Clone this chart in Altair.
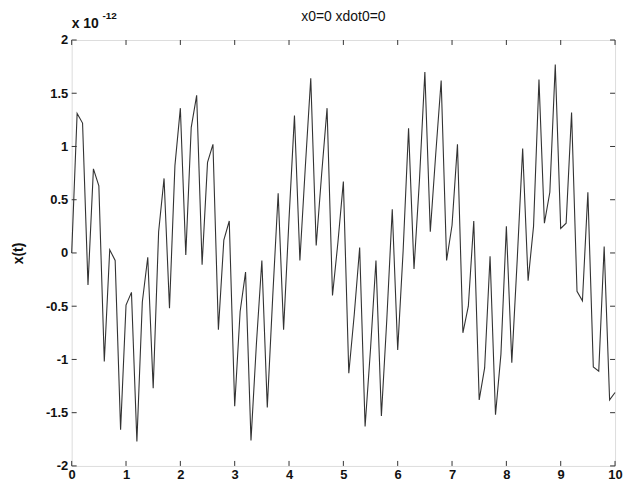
import altair as alt
import pandas as pd

# time grid (s) and response values (units of 1e-12)
t_values = [round(i * 0.1, 1) for i in range(101)]
x_values = [
    0.00, 1.31, 1.22, -0.30, 0.79, 0.63, -1.02, 0.03, -0.07, -1.66,
    -0.49, -0.37, -1.77, -0.46, -0.04, -1.27, 0.20, 0.70, -0.52, 0.82,
    1.36, -0.02, 1.18, 1.48, -0.11, 0.85, 1.02, -0.72, 0.12, 0.30,
    -1.44, -0.55, -0.18, -1.76, -0.85, -0.07, -1.45, -0.41, 0.56, -0.72,
    0.32, 1.29, -0.07, 0.81, 1.64, 0.07, 0.74, 1.36, -0.40, 0.10,
    0.67, -1.13, -0.58, 0.05, -1.63, -0.90, -0.07, -1.53, -0.62, 0.41,
    -0.91, 0.02, 1.17, -0.15, 0.68, 1.70, 0.20, 0.93, 1.62, -0.07,
    0.26, 1.02, -0.75, -0.50, 0.30, -1.38, -1.08, -0.03, -1.52, -0.95,
    0.25, -1.03, -0.06, 0.98, -0.26, 0.25, 1.63, 0.28, 0.57, 1.77,
    0.23, 0.28, 1.32, -0.36, -0.45, 0.57, -1.07, -1.11, 0.06, -1.38,
    -1.31,
]
x_ticks = [0, 1, 2, 3, 4, 5, 6, 7, 8, 9, 10]
y_ticks = [-2, -1.5, -1, -0.5, 0, 0.5, 1, 1.5, 2]
title_text = "x0=0 xdot0=0"
y_title = "x(t)"
exp_base = "x 10"
exp_power = "-12"

W, H = 546, 428
FONT = "Liberation Sans"
INK = "#111111"

df = pd.DataFrame({"t": t_values, "x": x_values})
xt = pd.DataFrame({"t": x_ticks})
yt = pd.DataFrame({"x": y_ticks})

xs = alt.Scale(domain=[0, 10], nice=False, zero=False)
ys = alt.Scale(domain=[-2, 2], nice=False, zero=False)

x_axis = alt.Axis(
    values=x_ticks, title=None, labelFont=FONT, labelFontSize=13,
    labelFontWeight="bold", labelColor=INK, ticks=False, domain=False,
    grid=False, labelPadding=3, labelFlush=False, labelExpr="'' + datum.value")
y_axis = alt.Axis(
    values=y_ticks, title=y_title, titleFont=FONT, titleFontSize=14,
    titleFontWeight="bold", titleColor=INK, titlePadding=20,
    labelFont=FONT, labelFontSize=13, labelFontWeight="bold",
    labelColor=INK, ticks=False, domain=False, grid=False,
    labelPadding=4, labelFlush=False, labelExpr="'' + datum.value")

line = alt.Chart(df).mark_line(color="#333333", strokeWidth=1.1).encode(
    x=alt.X("t:Q", scale=xs, axis=x_axis),
    y=alt.Y("x:Q", scale=ys, axis=y_axis),
)

tick_color = "#333333"
xt_bottom = alt.Chart(xt).mark_rule(color=tick_color, strokeWidth=1).encode(
    x=alt.X("t:Q", scale=xs, axis=x_axis), y=alt.value(H - 5), y2=alt.value(H))
xt_top = alt.Chart(xt).mark_rule(color=tick_color, strokeWidth=1).encode(
    x=alt.X("t:Q", scale=xs, axis=x_axis), y=alt.value(0), y2=alt.value(5))
yt_left = alt.Chart(yt).mark_rule(color=tick_color, strokeWidth=1).encode(
    y=alt.Y("x:Q", scale=ys, axis=y_axis), x=alt.value(0), x2=alt.value(5))
yt_right = alt.Chart(yt).mark_rule(color=tick_color, strokeWidth=1).encode(
    y=alt.Y("x:Q", scale=ys, axis=y_axis), x=alt.value(W - 5), x2=alt.value(W))

exp1 = alt.Chart(pd.DataFrame({"s": [exp_base]})).mark_text(
    font=FONT, fontSize=14, fontWeight="bold", align="left",
    baseline="alphabetic", color=INK
).encode(x=alt.value(0), y=alt.value(-12), text="s:N")
exp2 = alt.Chart(pd.DataFrame({"s": [exp_power]})).mark_text(
    font=FONT, fontSize=10, fontWeight="bold", align="left",
    baseline="alphabetic", color=INK
).encode(x=alt.value(31), y=alt.value(-21), text="s:N")
ttl = alt.Chart(pd.DataFrame({"s": [title_text]})).mark_text(
    font=FONT, fontSize=14, align="center", baseline="alphabetic", color=INK
).encode(x=alt.value(W / 2), y=alt.value(-19), text="s:N")

chart = alt.layer(line, xt_bottom, xt_top, yt_left, yt_right, exp1, exp2, ttl).properties(
    width=W, height=H,
    autosize=alt.AutoSizeParams(type="none"),
    padding={"left": 64, "top": 31, "right": 8, "bottom": 16},
).configure_view(stroke="#333333", strokeWidth=1).configure(background="white")

chart.save("out.html", embed_options={"renderer": "svg", "actions": False})
